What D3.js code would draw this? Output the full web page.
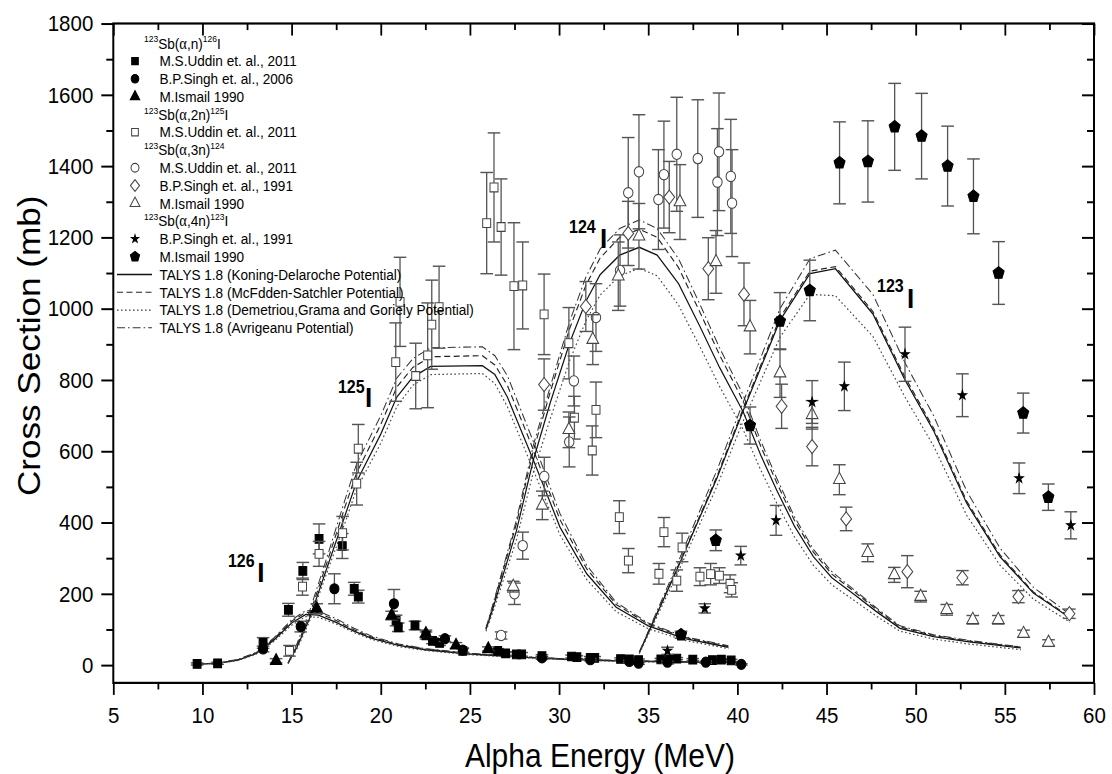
<!DOCTYPE html>
<html>
<head>
<meta charset="utf-8">
<script src="https://cdn.jsdelivr.net/npm/d3@7"></script>
<style>
html,body{margin:0;padding:0;background:#fff;}
svg{display:block;}
text{font-family:"Liberation Sans",Arial,Helvetica,sans-serif;fill:#000;}
</style>
</head>
<body>
<svg id="chart" width="1112" height="774" viewBox="0 0 1112 705" preserveAspectRatio="none"></svg>
<script>
// ---- measured cross sections: [alpha energy (MeV), sigma (mb), d-sigma (mb)] ----
// 123Sb(a,n)126I
const uddinN = [[9.7,3,3],[10.85,5,3],[13.4,62,15],[14.82,155,18],[15.63,264,24],[16.54,354,42],[17.84,334,35],[18.51,214,18],[18.74,192,18],[20.86,125,15],[20.98,106,12],[21.92,111,12],[22.54,83,10],[22.9,68,8],[23.3,62,7],[24.6,40,6],[26.56,40,6],[27.0,33,5],[27.61,30,5],[27.9,30,5],[29.04,25,4],[30.7,24,4],[31.0,22,4],[31.75,20,4],[32.0,20,4],[33.45,17,3],[33.94,16,3],[34.46,14,3],[35.71,16,3],[36.2,15,3],[36.6,18,3],[37.5,15,3],[38.6,14,3],[39.1,15,3],[39.65,13,3]];
const singhN = [[13.4,45,8],[15.51,108,15],[17.4,214,42],[20.74,172,40],[23.6,74,8],[24.6,42,6],[29.04,20,4],[31.75,15,3],[33.94,10,3],[34.46,5,3],[36.08,8,3],[38.23,8,3],[40.22,2,2]];
const ismailN = [[14.13,12,6],[16.41,158,14],[20.61,139,12],[22.53,88,10],[24.22,55,8],[26.03,45,6]];
// 123Sb(a,2n)125I
const uddin2N = [[14.88,40,15],[15.61,220,24],[16.54,312,35],[17.86,370,47],[18.65,509,60],[18.74,607,68],[20.84,850,110],[21.08,1019,125],[21.96,811,92],[22.63,869,147],[22.86,955,125],[23.27,1004,115],[25.94,1240,142],[26.35,1340,153],[26.75,1229,135],[27.47,1063,178],[27.96,1065,122],[29.16,984,113],[30.55,903,100],[30.86,694,60],[31.86,602,69],[32.07,716,78],[33.38,415,46],[33.89,293,34],[35.6,256,29],[35.88,373,41],[36.6,237,30],[36.9,330,40],[37.9,248,25],[38.5,255,30],[38.99,251,22],[39.59,228,25],[39.68,211,20]];
// 123Sb(a,3n)124I
const uddin3N = [[26.75,83,10],[27.5,200,30],[27.96,335,38],[29.17,529,54],[30.57,626,70],[30.83,797,70],[32.07,975,95],[33.42,1107,100],[33.88,1325,155],[34.48,1384,160],[35.57,1306,140],[35.88,1376,150],[36.6,1433,160],[37.78,1421,165],[38.88,1355,150],[38.97,1440,165],[39.63,1371,160],[39.7,1296,150]];
const singh3N = [[29.16,787,72],[31.5,1006,70],[33.88,1211,90],[36.18,1313,100],[38.37,1112,87],[40.37,1040,88],[42.48,726,62],[44.19,613,54],[46.1,410,33],[49.53,262,45],[52.62,245,20],[55.76,192,17],[58.62,144,13]];
const ismail3N = [[27.43,220,15],[29.06,448,40],[30.55,660,50],[31.89,913,70],[33.32,1091,96],[34.48,1203,92],[36.78,1299,105],[38.8,1131,88],[40.71,948,75],[42.39,819,68],[44.19,702,40],[45.72,520,42],[47.31,315,25],[48.8,253,21],[50.28,192,15],[51.74,155,15],[53.2,127,12],[54.63,127,12],[56.05,88,10],[57.45,63,8]];
// 123Sb(a,4n)123I
const singh4N = [[36.08,40,10],[38.17,159,13],[40.19,307,26],[42.17,406,42],[44.19,738,60],[46.0,782,68],[49.4,872,76],[52.62,757,60],[55.8,524,43],[58.7,392,38]];
const ismail4N = [[36.84,85,10],[38.79,350,29],[40.71,672,52],[42.39,965,80],[44.06,1051,85],[45.73,1409,115],[47.32,1413,114],[48.82,1510,122],[50.33,1484,120],[51.79,1400,112],[53.24,1315,105],[54.65,1100,88],[56.03,707,56],[57.44,471,37]];

// ---- TALYS 1.8 excitation functions: [alpha energy (MeV), sigma (mb)] ----
const talysN_KD  = [[9.7,2],[11,6],[12,14],[13,32],[14,70],[15,118],[15.8,142],[16.5,140],[17.5,120],[18.5,95],[19.5,75],[21,55],[22.5,43],[25,31],[27.5,23],[30,17],[33,12],[36,9],[40,7]];
const talysN_MS  = [[9.7,2],[11,6],[12,15],[13,34],[14,73],[15,123],[15.8,148],[16.5,146],[17.5,125],[18.5,99],[19.5,78],[21,57],[22.5,45],[25,32],[27.5,24],[30,18],[33,13],[36,10],[40,7]];
const talysN_DGG = [[9.7,2],[11,5],[12,13],[13,30],[14,66],[15,112],[15.8,136],[16.5,134],[17.5,115],[18.5,91],[19.5,72],[21,52],[22.5,41],[25,29],[27.5,22],[30,16],[33,11],[36,8],[40,6]];
const talysN_AV  = [[9.7,2],[11,7],[12,16],[13,35],[14,76],[15,127],[15.8,153],[16.5,151],[17.5,130],[18.5,103],[19.5,81],[21,59],[22.5,46],[25,33],[27.5,25],[30,18],[33,13],[36,10],[40,8]];

const talys2N_KD  = [[14.8,5],[15.3,50],[16,130],[17,275],[18,420],[18.65,515],[20,648],[20.9,752],[21.8,808],[22.8,838],[25.7,840],[26.4,815],[27.1,752],[28.55,576],[30.05,387],[31.55,256],[33.2,162],[35,110],[37,75],[39.5,50]];
const talys2N_MS  = [[14.8,5],[15.3,55],[16,140],[17,290],[18,445],[18.65,540],[20,675],[20.9,780],[21.8,835],[22.8,865],[25.7,868],[26.4,842],[27.1,785],[28.55,605],[30.05,408],[31.55,270],[33.2,170],[35,115],[37,78],[39.5,52]];
const talys2N_DGG = [[14.8,4],[15.3,45],[16,122],[17,262],[18,400],[18.65,495],[20,622],[20.9,725],[21.8,785],[22.8,815],[25.7,818],[26.4,790],[27.1,725],[28.55,548],[30.05,365],[31.55,240],[33.2,150],[35,102],[37,70],[39.5,46]];
const talys2N_AV  = [[14.8,6],[15.3,60],[16,150],[17,305],[18,465],[18.65,565],[20,700],[20.9,805],[21.8,860],[22.8,890],[25.7,893],[26.4,868],[27.1,812],[28.55,628],[30.05,425],[31.55,280],[33.2,176],[35,118],[37,80],[39.5,54]];

const talys3N_KD  = [[25.9,100],[26.3,160],[27.6,375],[28.55,574],[29.5,735],[30.6,905],[31.5,1020],[32.3,1095],[33.4,1150],[34.5,1172],[35.5,1150],[36.7,1070],[37.9,950],[39,835],[40.33,710],[41.3,590],[42.2,491],[43.2,390],[44.26,304],[45.3,245],[46.5,200],[47.8,150],[49.12,103],[51,80],[53,65],[55.9,48]];
const talys3N_MS  = [[25.9,102],[26.3,168],[27.6,395],[28.55,600],[29.5,765],[30.6,945],[31.5,1065],[32.3,1142],[33.4,1200],[34.5,1223],[35.5,1200],[36.7,1115],[37.9,990],[39,870],[40.33,740],[41.3,615],[42.2,512],[43.2,406],[44.26,317],[45.3,255],[46.5,208],[47.8,156],[49.12,107],[51,83],[53,67],[55.9,50]];
const talys3N_DGG = [[25.9,95],[26.3,150],[27.6,350],[28.55,540],[29.5,690],[30.6,855],[31.5,965],[32.3,1038],[33.4,1092],[34.5,1113],[35.5,1092],[36.7,1010],[37.9,893],[39,782],[40.33,660],[41.3,548],[42.2,455],[43.2,360],[44.26,280],[45.3,225],[46.5,183],[47.8,137],[49.12,95],[51,73],[53,59],[55.9,43]];
const talys3N_AV  = [[25.9,104],[26.3,172],[27.6,405],[28.55,615],[29.5,780],[30.6,965],[31.5,1088],[32.3,1167],[33.4,1225],[34.5,1249],[35.5,1225],[36.7,1140],[37.9,1012],[39,890],[40.33,757],[41.3,630],[42.2,525],[43.2,416],[44.26,325],[45.3,262],[46.5,213],[47.8,160],[49.12,110],[51,85],[53,69],[55.9,51]];

const talys4N_KD  = [[34.5,35],[36.5,255],[38.84,523],[40.33,714],[42.39,967],[44.07,1098],[45.5,1112],[47.6,985],[49.4,800],[51,658],[52.86,454],[54.73,304],[56.6,202],[58.66,132]];
const talys4N_MS  = [[34.5,35],[36.5,258],[38.84,528],[40.33,720],[42.39,975],[44.07,1105],[45.5,1118],[47.6,992],[49.4,808],[51,665],[52.86,460],[54.73,309],[56.6,205],[58.66,134]];
const talys4N_DGG = [[34.5,32],[36.5,242],[38.84,500],[40.33,685],[42.39,920],[44.07,1040],[45.5,1036],[47.6,922],[49.4,752],[51,615],[52.86,420],[54.73,280],[56.6,185],[58.66,120]];
const talys4N_AV  = [[34.5,37],[36.5,268],[38.84,545],[40.33,738],[42.39,1000],[44.07,1140],[45.5,1164],[47.6,1040],[49.4,848],[51,700],[52.86,488],[54.73,328],[56.6,218],[58.66,142]];

// ---- axis ticks ----
const xTicks = [5,10,15,20,25,30,35,40,45,50,55,60];
const xMinorTicks = [7.5,12.5,17.5,22.5,27.5,32.5,37.5,42.5,47.5,52.5,57.5];
const yTicks = [0,200,400,600,800,1000,1200,1400,1600,1800];
const yMinorTicks = [100,300,500,700,900,1100,1300,1500,1700];

// ---- product labels: mass number + "I", placed at [energy, sigma] ----
const productLabels = [
  {mass:"126", e:11.43, v:275, ie:13.07, iv:233},
  {mass:"125", e:17.6,  v:763, ie:19.12, iv:724},
  {mass:"124", e:30.56, v:1212, ie:32.3, iv:1170},
  {mass:"123", e:47.83, v:1047, ie:49.51, iv:1002}
];

// ---- layout (viewBox units; the svg is stretched vertically to 774 px) ----
const VW = 1112, VH = 705;
const plotLeft = 113.3, plotRight = 1094, plotTop = 21.4, plotBottom = 622;

const svg = d3.select("#chart");
svg.append("rect").attr("width", VW).attr("height", VH).attr("fill", "#fff");

const x = d3.scaleLinear().domain([5, 60]).range([plotLeft, plotRight]);
const y = d3.scaleLinear().domain([-50, 1800]).range([plotBottom, plotTop]);

// custom symbol shapes
const pentagon = {
  draw(ctx, size) {
    const r = Math.sqrt(size / 2.378);
    for (let i = 0; i < 5; i++) {
      const a = -Math.PI / 2 + i * 2 * Math.PI / 5;
      const px = r * Math.cos(a), py = r * Math.sin(a);
      if (i === 0) ctx.moveTo(px, py); else ctx.lineTo(px, py);
    }
    ctx.closePath();
  }
};
const diamond = {
  draw(ctx, size) {
    const r = Math.sqrt(size / 1.7);
    ctx.moveTo(0, -r); ctx.lineTo(r * 0.85, 0); ctx.lineTo(0, r); ctx.lineTo(-r * 0.85, 0); ctx.closePath();
  }
};

// ---- axes ----
function styleAxis(g) {
  g.select(".domain").remove();
  g.selectAll(".tick line").attr("stroke", "#000").attr("stroke-width", 1.8);
}
svg.append("g").attr("transform", `translate(0,${plotBottom})`)
  .call(d3.axisBottom(x).tickValues(xTicks).tickSize(11).tickPadding(11).tickFormat(d3.format("d")))
  .call(styleAxis)
  .call(g => g.selectAll("text").attr("font-size", 20.5).attr("font-family", "Liberation Sans, Arial, sans-serif"));
svg.append("g").attr("transform", `translate(0,${plotBottom})`)
  .call(d3.axisBottom(x).tickValues(xMinorTicks).tickSize(6).tickFormat(""))
  .call(styleAxis);
svg.append("g").attr("transform", `translate(${plotLeft},0)`)
  .call(d3.axisLeft(y).tickValues(yTicks).tickSize(12).tickPadding(8).tickFormat(d3.format("d")))
  .call(styleAxis)
  .call(g => g.selectAll("text").attr("font-size", 20.5).attr("font-family", "Liberation Sans, Arial, sans-serif"));
svg.append("g").attr("transform", `translate(${plotLeft},0)`)
  .call(d3.axisLeft(y).tickValues(yMinorTicks).tickSize(7).tickFormat(""))
  .call(styleAxis);
// inward ticks on the top and right frame
svg.append("g").attr("transform", `translate(0,${plotTop})`)
  .call(d3.axisTop(x).tickValues(xTicks).tickSize(-11).tickFormat(""))
  .call(styleAxis);
svg.append("g").attr("transform", `translate(0,${plotTop})`)
  .call(d3.axisTop(x).tickValues(xMinorTicks).tickSize(-6).tickFormat(""))
  .call(styleAxis);
svg.append("g").attr("transform", `translate(${plotRight},0)`)
  .call(d3.axisRight(y).tickValues(yTicks).tickSize(-12).tickFormat(""))
  .call(styleAxis);
svg.append("g").attr("transform", `translate(${plotRight},0)`)
  .call(d3.axisRight(y).tickValues(yMinorTicks).tickSize(-7).tickFormat(""))
  .call(styleAxis);

// frame
svg.append("rect").attr("x", plotLeft).attr("y", plotTop)
  .attr("width", plotRight - plotLeft).attr("height", plotBottom - plotTop)
  .attr("fill", "none").attr("stroke", "#000").attr("stroke-width", 2);

// axis titles
svg.append("text").attr("x", 600).attr("y", 699).attr("text-anchor", "middle")
  .attr("font-size", 30).text("Alpha Energy (MeV)");
svg.append("text").attr("transform", "translate(40,315) rotate(-90)").attr("text-anchor", "middle")
  .attr("font-size", 32).text("Cross Section (mb)");

// ---- TALYS curves ----
const lineStyles = {
  KD:  {dash: null,            color: "#111", width: 1.2},
  MS:  {dash: "6,3.5",         color: "#222", width: 1.1},
  DGG: {dash: "1.6,2.4",       color: "#444", width: 1.1},
  AV:  {dash: "8,3,1.6,3",     color: "#333", width: 1.0}
};
const line = d3.line().x(d => x(d[0])).y(d => y(d[1]));
const curveSets = [
  [talysN_KD, "KD"], [talysN_MS, "MS"], [talysN_DGG, "DGG"], [talysN_AV, "AV"],
  [talys2N_KD, "KD"], [talys2N_MS, "MS"], [talys2N_DGG, "DGG"], [talys2N_AV, "AV"],
  [talys3N_KD, "KD"], [talys3N_MS, "MS"], [talys3N_DGG, "DGG"], [talys3N_AV, "AV"],
  [talys4N_KD, "KD"], [talys4N_MS, "MS"], [talys4N_DGG, "DGG"], [talys4N_AV, "AV"]
];
const gCurves = svg.append("g");
curveSets.forEach(([data, key]) => {
  const st = lineStyles[key];
  gCurves.append("path").attr("d", line(data)).attr("fill", "none")
    .attr("stroke", st.color).attr("stroke-width", st.width)
    .attr("stroke-dasharray", st.dash);
});

// ---- measured data ----
const seriesDefs = [
  {data: uddinN,   type: d3.symbolSquare,   size: 62, filled: true},
  {data: singhN,   type: d3.symbolCircle,   size: 66, filled: true},
  {data: ismailN,  type: d3.symbolTriangle, size: 55, filled: true},
  {data: uddin2N,  type: d3.symbolSquare,   size: 64, filled: false},
  {data: uddin3N,  type: d3.symbolCircle,   size: 70, filled: false},
  {data: singh3N,  type: diamond,           size: 70, filled: false},
  {data: ismail3N, type: d3.symbolTriangle, size: 60, filled: false},
  {data: singh4N,  type: d3.symbolStar,     size: 22, filled: true},
  {data: ismail4N, type: pentagon,          size: 80, filled: true}
];
const capHalf = 6.3;
const gData = svg.append("g");
seriesDefs.forEach(s => {
  const g = gData.append("g");
  const eb = g.selectAll("g.eb").data(s.data).join("g").attr("class", "eb")
    .attr("stroke", "#555").attr("stroke-width", 1.3);
  eb.append("line").attr("x1", d => x(d[0])).attr("x2", d => x(d[0]))
    .attr("y1", d => y(d[1] - d[2])).attr("y2", d => y(d[1] + d[2]));
  eb.append("line").attr("x1", d => x(d[0]) - capHalf).attr("x2", d => x(d[0]) + capHalf)
    .attr("y1", d => y(d[1] + d[2])).attr("y2", d => y(d[1] + d[2]));
  eb.append("line").attr("x1", d => x(d[0]) - capHalf).attr("x2", d => x(d[0]) + capHalf)
    .attr("y1", d => y(d[1] - d[2])).attr("y2", d => y(d[1] - d[2]));
  g.selectAll("path.mk").data(s.data).join("path").attr("class", "mk")
    .attr("transform", d => `translate(${x(d[0])},${y(d[1])})`)
    .attr("d", d3.symbol().type(s.type).size(s.size))
    .attr("fill", s.filled ? "#000" : "#fff")
    .attr("stroke", s.filled ? "#000" : "#444")
    .attr("stroke-width", 1);
});

// ---- product labels ----
productLabels.forEach(p => {
  svg.append("text").attr("x", x(p.e)).attr("y", y(p.v))
    .attr("font-size", 16).attr("font-weight", "bold").text(p.mass);
  svg.append("text").attr("x", x(p.ie)).attr("y", y(p.iv))
    .attr("font-size", 26).attr("font-weight", "bold").text("I");
});

// ---- legend ----
const legendRows = [
  {head: [["123",1],["Sb(",0],["α",2],[",n)",0],["126",1],["I",0]]},
  {label: "M.S.Uddin et. al., 2011", series: 0},
  {label: "B.P.Singh et. al., 2006", series: 1},
  {label: "M.Ismail 1990", series: 2},
  {head: [["123",1],["Sb(",0],["α",2],[",2n)",0],["125",1],["I",0]]},
  {label: "M.S.Uddin et. al., 2011", series: 3},
  {head: [["123",1],["Sb(",0],["α",2],[",3n)",0],["124",1]]},
  {label: "M.S.Uddin et. al., 2011", series: 4},
  {label: "B.P.Singh et. al., 1991", series: 5},
  {label: "M.Ismail 1990", series: 6},
  {head: [["123",1],["Sb(",0],["α",2],[",4n)",0],["123",1],["I",0]]},
  {label: "B.P.Singh et. al., 1991", series: 7},
  {label: "M.Ismail 1990", series: 8},
  {label: "TALYS 1.8 (Koning-Delaroche Potential)", line: "KD"},
  {label: "TALYS 1.8 (McFdden-Satchler Potential)", line: "MS"},
  {label: "TALYS 1.8 (Demetriou,Grama and Goriely Potential)", line: "DGG"},
  {label: "TALYS 1.8 (Avrigeanu Potential)", line: "AV"}
];
const legY0 = 39.4, legDy = 16.2, legFont = 13.6;
const gLeg = svg.append("g");
legendRows.forEach((r, i) => {
  const cy = legY0 + i * legDy;
  if (r.head) {
    const t = gLeg.append("text").attr("x", 144).attr("y", cy + 4.8).attr("font-size", legFont);
    let raised = false;
    r.head.forEach(([s, kind]) => {
      const ts = t.append("tspan").text(s);
      if (kind === 1) {
        ts.attr("font-size", 8.5).attr("dy", raised ? 0 : -5.5);
        raised = true;
      } else {
        if (raised) { ts.attr("dy", 5.5); raised = false; }
        if (kind === 2) ts.attr("font-family", "Liberation Serif, Times New Roman, serif").attr("font-size", 14.5);
      }
    });
    return;
  }
  if (r.series !== undefined) {
    const s = seriesDefs[r.series];
    gLeg.append("path").attr("transform", `translate(135,${cy})`)
      .attr("d", d3.symbol().type(s.type).size(s.size * 0.7))
      .attr("fill", s.filled ? "#000" : "#fff")
      .attr("stroke", s.filled ? "#000" : "#444").attr("stroke-width", 1);
    gLeg.append("text").attr("x", 159.5).attr("y", cy + 4.8).attr("font-size", legFont).text(r.label);
  } else {
    const st = lineStyles[r.line];
    gLeg.append("line").attr("x1", 117).attr("x2", 152).attr("y1", cy).attr("y2", cy)
      .attr("stroke", st.color).attr("stroke-width", st.width).attr("stroke-dasharray", st.dash);
    gLeg.append("text").attr("x", 159.5).attr("y", cy + 4.8).attr("font-size", legFont).text(r.label);
  }
});
</script>
</body>
</html>
